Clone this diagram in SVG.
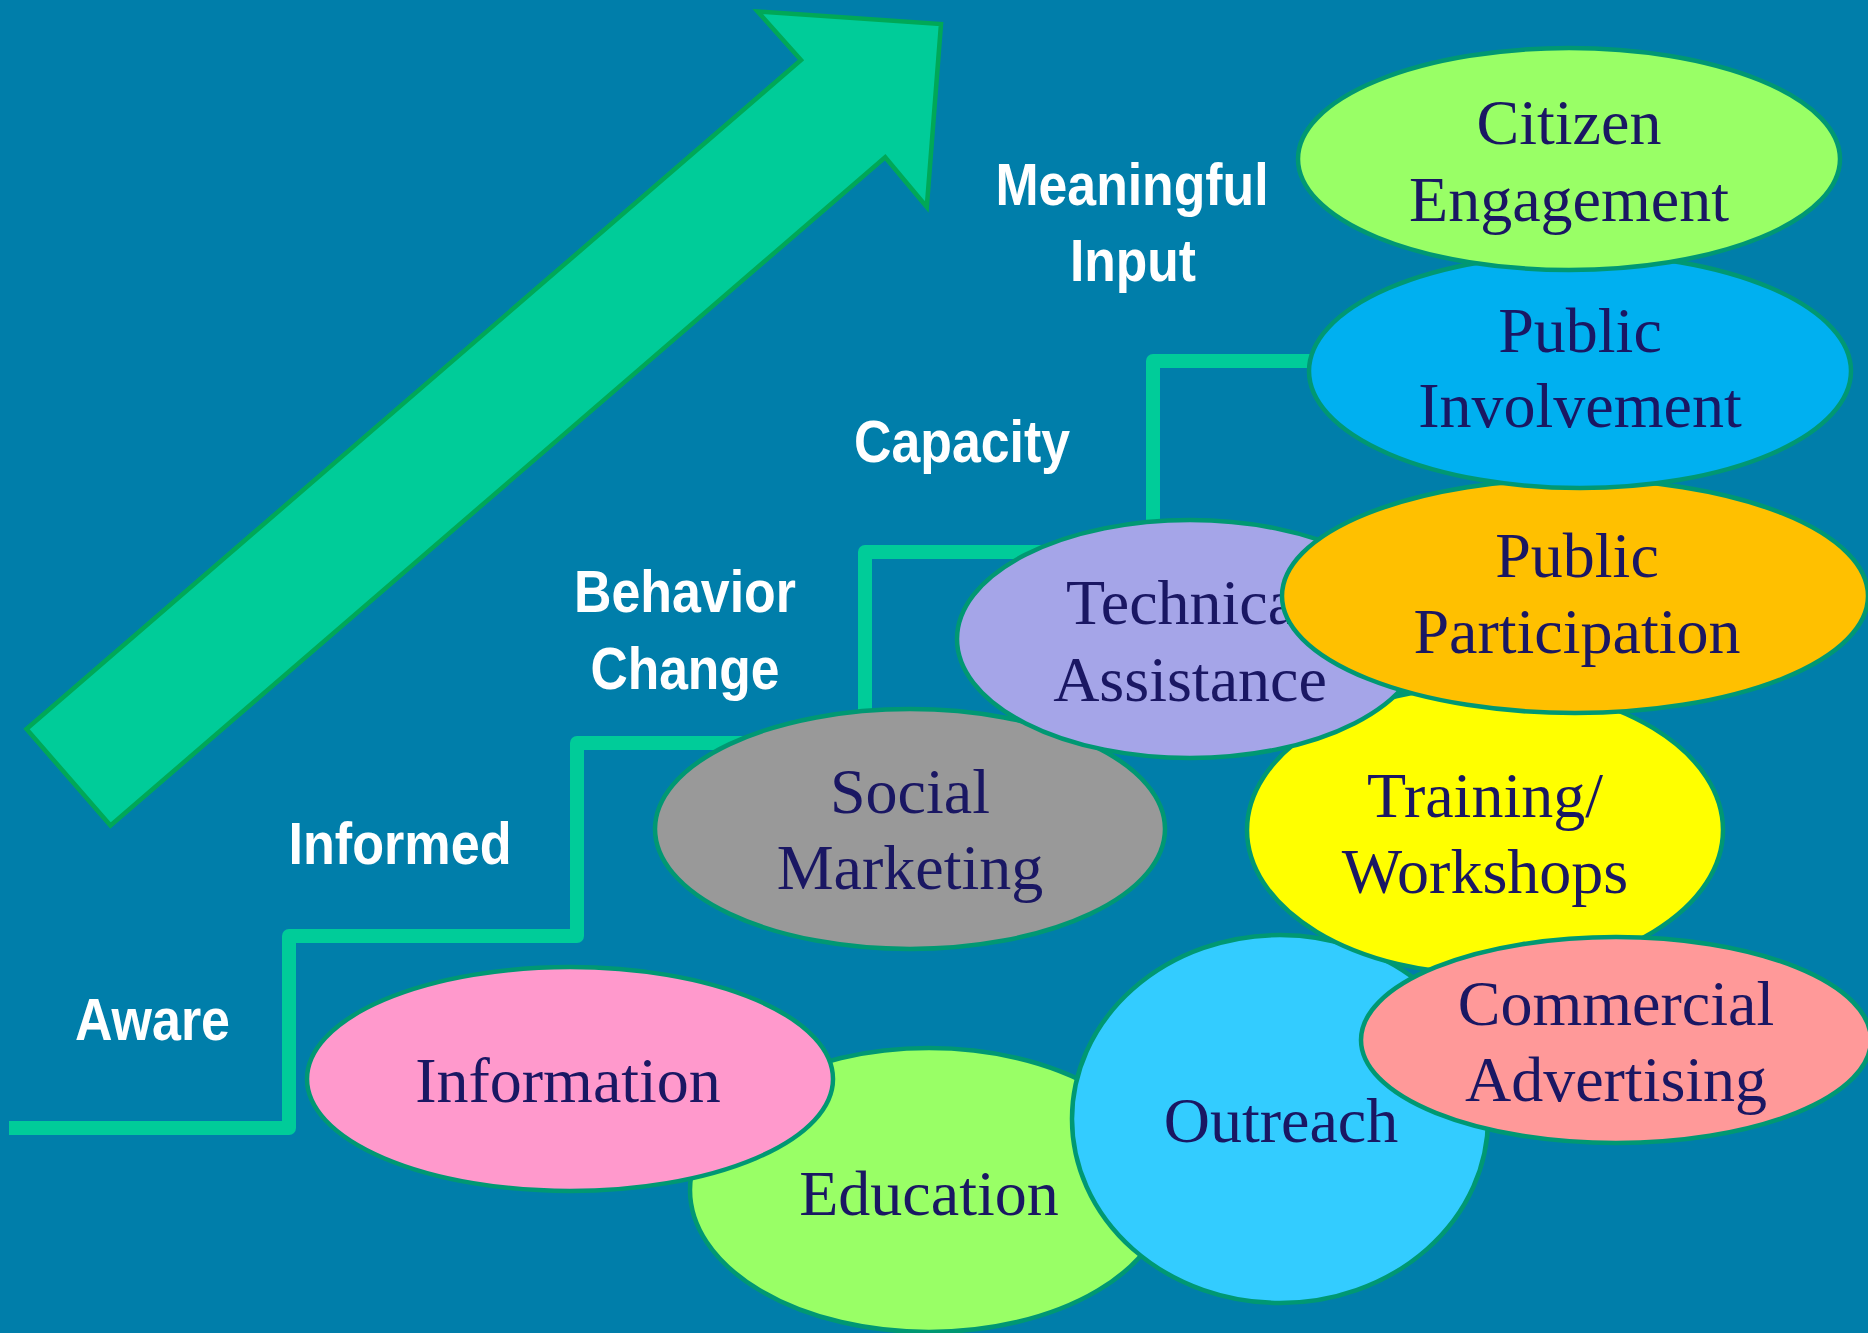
<svg xmlns="http://www.w3.org/2000/svg" width="1868" height="1333" viewBox="0 0 1868 1333">
<style>
.node ellipse{stroke:#009873;stroke-width:4.5}
.nt{font-family:"Liberation Serif","Times New Roman",serif;font-size:64px;fill:#1A1763;text-anchor:middle}
.lab{font-family:"Liberation Sans Narrow","Liberation Sans",Arial,sans-serif;font-weight:bold;font-size:60px;fill:#FFFFFF;text-anchor:middle}
</style>
<rect x="0" y="0" width="1868" height="1333" fill="#007EAA"/>
<g id="big-arrow">
<polygon points="757.7,11.5 941,24 926.8,207 885.2,157.3 110.5,825.5 26.5,729 801,60" fill="#00CC99" stroke="#00A857" stroke-width="4.5" stroke-linejoin="miter"/>
</g>
<g id="connectors">
<path d="M9,1128 H289 V936 H577 V743 H760" fill="none" stroke="#00CC99" stroke-width="14" stroke-linejoin="round"/>
<path d="M865,740 V552 H1060" fill="none" stroke="#00CC99" stroke-width="14" stroke-linejoin="round"/>
<path d="M1153,540 V361 H1340" fill="none" stroke="#00CC99" stroke-width="14" stroke-linejoin="round"/>
</g>
<g id="labels">
<text class="lab" x="1132" y="205" textLength="273" lengthAdjust="spacingAndGlyphs">Meaningful</text>
<text class="lab" x="1133" y="281" textLength="126" lengthAdjust="spacingAndGlyphs">Input</text>
<text class="lab" x="962" y="462" textLength="216" lengthAdjust="spacingAndGlyphs">Capacity</text>
<text class="lab" x="685" y="612" textLength="222" lengthAdjust="spacingAndGlyphs">Behavior</text>
<text class="lab" x="685" y="689" textLength="189" lengthAdjust="spacingAndGlyphs">Change</text>
<text class="lab" x="400" y="864" textLength="223" lengthAdjust="spacingAndGlyphs">Informed</text>
<text class="lab" x="152.5" y="1040" textLength="155" lengthAdjust="spacingAndGlyphs">Aware</text>
</g>
<g id="node-education" class="node">
<ellipse cx="929" cy="1190" rx="239" ry="142" fill="#99FF66"/>
<text class="nt" x="929" y="1215">Education</text>
</g>
<g id="node-information" class="node">
<ellipse cx="570" cy="1079" rx="263" ry="112" fill="#FF99CC"/>
<text class="nt" x="568" y="1102">Information</text>
</g>
<g id="node-outreach" class="node">
<ellipse cx="1280" cy="1119" rx="208" ry="184" fill="#33CCFF"/>
<text class="nt" x="1281" y="1142">Outreach</text>
</g>
<g id="node-training" class="node">
<ellipse cx="1485" cy="830" rx="238" ry="144" fill="#FFFF00"/>
<text class="nt" x="1485" y="817">Training/</text>
<text class="nt" x="1485" y="893">Workshops</text>
</g>
<g id="node-commercial" class="node">
<ellipse cx="1616" cy="1040" rx="255" ry="103" fill="#FF9999"/>
<text class="nt" x="1616" y="1025">Commercial</text>
<text class="nt" x="1616" y="1101">Advertising</text>
</g>
<g id="node-social-marketing" class="node">
<ellipse cx="910" cy="829" rx="255" ry="120" fill="#999999"/>
<text class="nt" x="910" y="813">Social</text>
<text class="nt" x="910" y="889">Marketing</text>
</g>
<g id="node-technical-assistance" class="node">
<ellipse cx="1190" cy="639" rx="233" ry="119" fill="#A5A5E8"/>
<text class="nt" x="1190" y="624">Technical</text>
<text class="nt" x="1190" y="701">Assistance</text>
</g>
<g id="node-public-participation" class="node">
<ellipse cx="1575" cy="596" rx="293" ry="117" fill="#FFC000"/>
<text class="nt" x="1577" y="577">Public</text>
<text class="nt" x="1577" y="653">Participation</text>
</g>
<g id="node-public-involvement" class="node">
<ellipse cx="1580" cy="371" rx="271" ry="117" fill="#00B0F0"/>
<text class="nt" x="1580" y="352">Public</text>
<text class="nt" x="1580" y="427">Involvement</text>
</g>
<g id="node-citizen-engagement" class="node">
<ellipse cx="1569" cy="159" rx="271" ry="111" fill="#99FF66"/>
<text class="nt" x="1569" y="144">Citizen</text>
<text class="nt" x="1569" y="221">Engagement</text>
</g>
</svg>
